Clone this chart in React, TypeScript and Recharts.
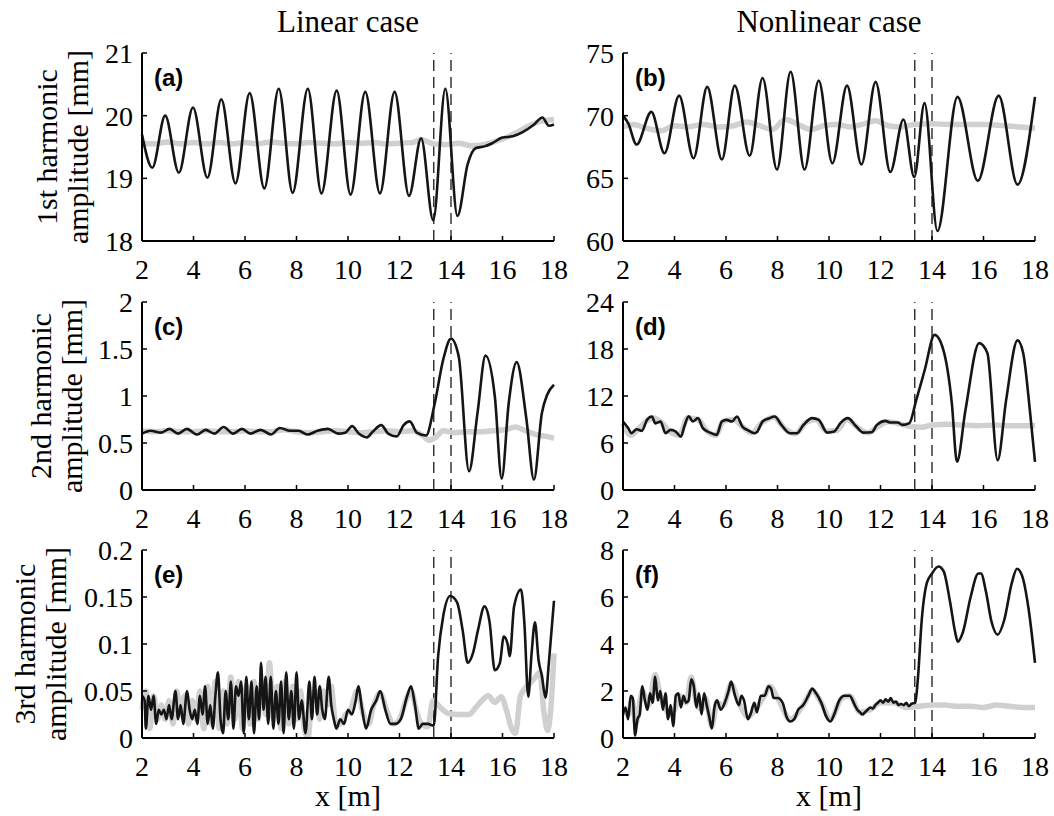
import React from "react";
import { LineChart, Line, XAxis, YAxis, ReferenceLine } from "recharts";

type Pt = [number, number];

const xTicks = [2, 4, 6, 8, 10, 12, 14, 16, 18];
const gaugeX = [13.33, 14.0];

// 1st harmonic
const h1Ticks = { lin: [18, 19, 20, 21], non: [60, 65, 70, 75] };
const h1LinBlack: Pt[] = [
  [2.0, 19.7], [2.4, 19.17], [2.9, 20.0], [3.43, 19.09], [3.98, 20.13], [4.54, 19.01],
  [5.08, 20.26], [5.63, 18.92], [6.18, 20.36], [6.75, 18.84], [7.31, 20.43], [7.85, 18.77],
  [8.44, 20.43], [8.97, 18.76], [9.56, 20.4], [10.1, 18.74], [10.67, 20.38], [11.24, 18.76],
  [11.81, 20.38], [12.37, 18.72], [12.84, 19.64], [13.31, 18.33], [13.78, 20.43], [14.25, 18.4],
  [14.65, 19.23], [14.95, 19.48], [15.3, 19.51], [15.6, 19.56], [16.0, 19.65], [16.4, 19.67],
  [16.8, 19.74], [17.2, 19.85], [17.55, 19.97], [17.8, 19.84], [18.0, 19.86],
];
const h1LinGray: Pt[] = [
  [2, 19.56], [2.5, 19.55], [3, 19.58], [3.5, 19.55], [4, 19.57], [4.5, 19.55], [5, 19.57],
  [5.5, 19.55], [6, 19.57], [6.5, 19.55], [7, 19.58], [7.5, 19.56], [8, 19.55], [8.5, 19.57],
  [9, 19.56], [9.5, 19.55], [10, 19.57], [10.5, 19.56], [11, 19.57], [11.5, 19.55], [12, 19.56],
  [12.5, 19.57], [12.85, 19.62], [13.3, 19.55], [13.8, 19.54], [14.3, 19.56], [14.8, 19.52],
  [15.3, 19.54], [15.8, 19.6], [16.2, 19.66], [16.6, 19.74], [17.0, 19.83], [17.4, 19.9],
  [17.8, 19.93], [18, 19.94],
];
const h1NonBlack: Pt[] = [
  [2, 70.0], [2.2, 69.4], [2.53, 67.7], [3.1, 70.3], [3.61, 67.0], [4.18, 71.6], [4.74, 66.6],
  [5.27, 72.3], [5.84, 66.5], [6.34, 72.4], [6.92, 66.8], [7.42, 73.0], [7.98, 65.7], [8.51, 73.5],
  [9.05, 65.7], [9.6, 72.8], [10.13, 66.2], [10.7, 72.4], [11.26, 66.1], [11.81, 72.7],
  [12.38, 65.5], [12.89, 69.7], [13.31, 65.1], [13.71, 71.0], [14.21, 60.8], [14.99, 71.5],
  [15.78, 64.8], [16.59, 71.6], [17.32, 64.5], [18, 71.5],
];
const h1NonGray: Pt[] = [
  [2, 69.1], [2.4, 69.3], [2.9, 69.0], [3.5, 68.8], [4.0, 69.2], [4.5, 69.1], [5.1, 69.3],
  [5.7, 69.1], [6.3, 69.2], [6.8, 69.5], [7.3, 69.2], [7.8, 68.9], [8.3, 69.7], [8.8, 69.3],
  [9.3, 68.9], [9.8, 69.2], [10.3, 69.3], [10.8, 69.1], [11.3, 69.3], [11.8, 69.6], [12.3, 69.2],
  [12.8, 69.1], [13.3, 69.3], [14, 69.35], [14.7, 69.3], [15.4, 69.3], [16.1, 69.3], [16.8, 69.2],
  [17.4, 69.1], [18, 69.0],
];

// 2nd harmonic
const h2Ticks = { lin: [0, 0.5, 1, 1.5, 2], non: [0, 6, 12, 18, 24] };
const h2LinBlack: Pt[] = [
  [2, 0.6], [2.33, 0.63], [2.74, 0.61], [3.07, 0.65], [3.4, 0.6], [3.74, 0.65], [4.14, 0.59],
  [4.47, 0.64], [4.81, 0.6], [5.17, 0.67], [5.54, 0.6], [5.88, 0.65], [6.21, 0.6], [6.61, 0.64],
  [7.01, 0.59], [7.35, 0.66], [7.75, 0.63], [8.08, 0.63], [8.42, 0.59], [8.82, 0.63], [9.22, 0.65],
  [9.62, 0.6], [9.89, 0.61], [10.16, 0.68], [10.42, 0.6], [10.73, 0.56], [10.96, 0.62],
  [11.29, 0.69], [11.56, 0.6], [11.89, 0.57], [12.16, 0.69], [12.4, 0.73], [12.67, 0.61],
  [13.03, 0.58], [13.36, 0.91], [13.7, 1.39], [14.0, 1.61], [14.3, 1.42], [14.7, 0.2],
  [15.03, 0.82], [15.34, 1.43], [15.7, 1.0], [15.97, 0.12], [16.24, 0.92], [16.55, 1.36],
  [16.93, 0.75], [17.22, 0.11], [17.53, 0.82], [17.73, 1.01], [18, 1.12],
];
const h2LinGray: Pt[] = [
  [2, 0.63], [2.5, 0.62], [3, 0.63], [3.5, 0.62], [4, 0.62], [4.5, 0.63], [5, 0.62], [5.5, 0.62],
  [6, 0.63], [6.5, 0.62], [7, 0.62], [7.5, 0.64], [8, 0.62], [8.5, 0.61], [9, 0.62], [9.5, 0.63],
  [10, 0.62], [10.5, 0.61], [11, 0.62], [11.5, 0.63], [12, 0.62], [12.5, 0.63], [12.9, 0.58],
  [13.15, 0.53], [13.4, 0.56], [13.7, 0.63], [14.1, 0.61], [14.6, 0.62], [15.1, 0.62],
  [15.6, 0.63], [16.1, 0.64], [16.5, 0.67], [16.9, 0.63], [17.3, 0.59], [17.7, 0.57], [18, 0.55],
];
const h2NonBlack: Pt[] = [
  [2, 8.74], [2.2, 7.9], [2.33, 7.25], [2.53, 7.76], [2.73, 7.55], [2.93, 8.95], [3.12, 9.38],
  [3.26, 8.5], [3.46, 8.74], [3.65, 7.25], [3.85, 7.67], [4.05, 7.46], [4.25, 6.8], [4.38, 8.1],
  [4.55, 9.4], [4.71, 8.74], [4.91, 9.17], [5.1, 7.9], [5.37, 7.33], [5.64, 7.04], [5.84, 8.74],
  [6.03, 8.95], [6.23, 8.74], [6.43, 9.38], [6.63, 8.1], [6.83, 7.67], [7.1, 7.25], [7.22, 7.46],
  [7.42, 8.74], [7.69, 9.17], [7.89, 9.38], [8.15, 8.31], [8.48, 7.25], [8.75, 7.25], [9.01, 8.31],
  [9.34, 9.17], [9.6, 8.95], [9.93, 7.33], [10.2, 7.46], [10.46, 8.61], [10.73, 9.17],
  [11.06, 8.1], [11.33, 7.33], [11.66, 7.38], [11.86, 8.31], [12.19, 8.82], [12.39, 8.61],
  [12.66, 8.61], [12.86, 8.31], [13.12, 8.53], [13.39, 11.5], [13.72, 15.35], [14.1, 19.8],
  [14.44, 17.9], [14.77, 11.1], [14.97, 3.6], [15.3, 10.2], [15.83, 18.75], [16.15, 17.5],
  [16.55, 3.8], [16.88, 11.5], [17.32, 19.1], [17.54, 17.5], [17.8, 10.2], [18, 3.6],
];
const h2NonGray: Pt[] = [
  [2, 8.5], [2.3, 7.0], [2.6, 7.8], [2.9, 8.8], [3.2, 9.2], [3.5, 8.6], [3.8, 7.5], [4.2, 7.0],
  [4.5, 9.2], [4.9, 9.0], [5.3, 7.4], [5.6, 7.0], [5.9, 8.8], [6.3, 9.0], [6.6, 8.2], [7.0, 7.3],
  [7.4, 8.6], [7.85, 9.3], [8.3, 7.8], [8.7, 7.2], [9.1, 8.6], [9.5, 9.0], [9.9, 7.5], [10.3, 7.6],
  [10.7, 9.0], [11.1, 8.0], [11.5, 7.3], [11.9, 8.1], [12.3, 8.7], [12.8, 8.4], [13.2, 8.1],
  [13.6, 8.0], [14.0, 8.3], [14.6, 8.4], [15.2, 8.3], [15.8, 8.2], [16.4, 8.3], [17.0, 8.2],
  [17.6, 8.2], [18, 8.2],
];

// 3rd harmonic
const h3Ticks = { lin: [0, 0.05, 0.1, 0.15, 0.2], non: [0, 2, 4, 6, 8] };
const h3LinBlack: Pt[] = [
  [2.0, 0.045], [2.1, 0.04], [2.15, 0.01], [2.25, 0.045], [2.35, 0.03], [2.45, 0.045], [2.55, 0.015],
  [2.65, 0.03], [2.75, 0.025], [2.85, 0.03], [2.95, 0.02], [3.05, 0.035], [3.15, 0.02], [3.3, 0.05],
  [3.4, 0.02], [3.5, 0.035], [3.6, 0.015], [3.75, 0.05], [3.85, 0.03], [3.95, 0.02], [4.05, 0.03],
  [4.15, 0.015], [4.25, 0.045], [4.35, 0.025], [4.45, 0.055], [4.55, 0.015], [4.65, 0.035],
  [4.75, 0.01], [4.85, 0.045], [4.95, 0.07], [5.05, 0.02], [5.15, 0.005], [5.25, 0.05], [5.35, 0.02],
  [5.45, 0.06], [5.55, 0.01], [5.65, 0.055], [5.75, 0.045], [5.85, 0.06], [5.95, 0.005],
  [6.05, 0.065], [6.15, 0.02], [6.25, 0.06], [6.35, 0.005], [6.45, 0.055], [6.55, 0.02], [6.62, 0.08],
  [6.72, 0.03], [6.8, 0.065], [6.9, 0.015], [7.0, 0.065], [7.1, 0.01], [7.2, 0.05], [7.3, 0.015],
  [7.4, 0.06], [7.5, 0.005], [7.6, 0.07], [7.7, 0.02], [7.8, 0.05], [7.9, 0.01], [8.0, 0.07],
  [8.1, 0.02], [8.2, 0.04], [8.35, 0.005], [8.5, 0.06], [8.6, 0.02], [8.7, 0.065], [8.8, 0.025],
  [8.9, 0.055], [9.0, 0.03], [9.1, 0.02], [9.25, 0.065], [9.35, 0.035], [9.45, 0.02], [9.55, 0.01],
  [9.7, 0.02], [9.85, 0.015], [10.0, 0.03], [10.15, 0.025], [10.3, 0.04], [10.4, 0.055],
  [10.55, 0.03], [10.7, 0.01], [10.9, 0.03], [11.1, 0.04], [11.25, 0.05], [11.45, 0.03],
  [11.65, 0.015], [11.85, 0.015], [12.05, 0.02], [12.3, 0.045], [12.45, 0.055], [12.6, 0.035],
  [12.75, 0.01], [12.9, 0.015], [13.1, 0.015], [13.33, 0.013], [13.5, 0.087], [13.7, 0.13],
  [13.97, 0.151], [14.24, 0.144], [14.45, 0.115], [14.65, 0.08], [14.85, 0.09], [15.05, 0.115],
  [15.3, 0.14], [15.5, 0.123], [15.7, 0.072], [15.9, 0.08], [16.05, 0.108], [16.2, 0.1],
  [16.28, 0.087], [16.45, 0.14], [16.72, 0.158], [16.85, 0.122], [17.0, 0.044], [17.13, 0.09],
  [17.26, 0.123], [17.4, 0.083], [17.53, 0.066], [17.67, 0.043], [17.8, 0.08], [18.0, 0.146],
];
const h3LinGray: Pt[] = [
  [2, 0.03], [2.15, 0.05], [2.3, 0.01], [2.45, 0.045], [2.6, 0.02], [2.75, 0.035], [2.9, 0.02],
  [3.05, 0.04], [3.2, 0.015], [3.35, 0.05], [3.5, 0.025], [3.65, 0.045], [3.8, 0.015], [3.95, 0.04],
  [4.1, 0.02], [4.25, 0.05], [4.4, 0.01], [4.55, 0.055], [4.7, 0.015], [4.85, 0.06], [5.0, 0.01],
  [5.15, 0.05], [5.3, 0.015], [5.45, 0.065], [5.6, 0.02], [5.75, 0.06], [5.9, 0.01], [6.05, 0.055],
  [6.2, 0.015], [6.35, 0.06], [6.5, 0.02], [6.65, 0.06], [6.8, 0.025], [6.95, 0.08], [7.1, 0.02],
  [7.25, 0.055], [7.4, 0.01], [7.55, 0.06], [7.7, 0.015], [7.85, 0.055], [8.0, 0.02], [8.15, 0.05],
  [8.3, 0.01], [8.45, 0.0], [8.6, 0.045], [8.75, 0.05], [8.9, 0.02], [9.05, 0.05], [9.2, 0.035],
  [9.35, 0.055], [9.5, 0.02], [9.7, 0.015], [9.9, 0.025], [10.1, 0.03], [10.35, 0.05], [10.6, 0.025],
  [10.8, 0.015], [11.0, 0.035], [11.25, 0.048], [11.5, 0.03], [11.75, 0.015], [12.0, 0.02],
  [12.25, 0.04], [12.45, 0.05], [12.65, 0.03], [12.85, 0.015], [13.1, 0.012], [13.3, 0.04],
  [13.6, 0.032], [13.9, 0.026], [14.3, 0.025], [14.7, 0.025], [14.95, 0.032], [15.2, 0.04],
  [15.45, 0.045], [15.7, 0.038], [15.95, 0.044], [16.15, 0.03], [16.35, 0.01], [16.5, 0.005],
  [16.7, 0.045], [16.95, 0.055], [17.2, 0.062], [17.45, 0.07], [17.6, 0.03], [17.75, 0.008],
  [17.9, 0.04], [18, 0.09],
];
const h3NonBlack: Pt[] = [
  [2.0, 1.0], [2.1, 1.3], [2.2, 0.8], [2.3, 1.8], [2.38, 1.7], [2.47, 0.1], [2.56, 0.8], [2.65, 1.0],
  [2.75, 2.2], [2.85, 1.6], [2.95, 1.2], [3.05, 1.9], [3.15, 1.5], [3.25, 2.6], [3.35, 1.6],
  [3.45, 2.0], [3.55, 1.2], [3.65, 1.9], [3.75, 0.8], [3.85, 1.4], [3.95, 0.5], [4.05, 1.8],
  [4.15, 1.9], [4.25, 1.3], [4.35, 1.8], [4.45, 1.5], [4.55, 1.6], [4.65, 2.5], [4.75, 2.2],
  [4.85, 1.3], [4.95, 1.9], [5.05, 1.0], [5.15, 1.9], [5.25, 1.4], [5.35, 0.9], [5.45, 0.4],
  [5.55, 1.3], [5.65, 1.6], [5.8, 1.2], [5.95, 1.5], [6.1, 2.0], [6.2, 2.4], [6.35, 1.8], [6.5, 1.4],
  [6.6, 1.8], [6.7, 1.6], [6.85, 0.8], [6.95, 1.0], [7.1, 1.5], [7.2, 1.1], [7.35, 1.8], [7.5, 1.8],
  [7.65, 2.2], [7.75, 2.1], [7.85, 1.7], [8.0, 1.7], [8.2, 1.5], [8.35, 0.9], [8.5, 0.7], [8.65, 0.8],
  [8.8, 1.2], [9.0, 1.4], [9.2, 1.8], [9.35, 2.1], [9.5, 1.9], [9.7, 1.5], [9.9, 0.9], [10.05, 0.7],
  [10.2, 1.0], [10.4, 1.6], [10.6, 1.8], [10.8, 1.8], [11.0, 1.4], [11.1, 1.2], [11.2, 1.1],
  [11.3, 1.0], [11.4, 1.1], [11.5, 1.2], [11.6, 1.3], [11.7, 1.25], [11.8, 1.4], [11.9, 1.5],
  [12.0, 1.6], [12.1, 1.5], [12.2, 1.65], [12.3, 1.55], [12.4, 1.7], [12.5, 1.5], [12.6, 1.55],
  [12.7, 1.4], [12.8, 1.45], [12.9, 1.4], [13.0, 1.5], [13.1, 1.35], [13.2, 1.45], [13.35, 1.5],
  [13.45, 2.5], [13.6, 5.0], [13.8, 6.6], [14.0, 7.0], [14.25, 7.3], [14.45, 7.1], [14.7, 5.8],
  [14.9, 4.5], [15.0, 4.1], [15.2, 4.5], [15.5, 6.0], [15.8, 7.0], [15.9, 7.0], [16.1, 6.2],
  [16.3, 5.0], [16.55, 4.4], [16.8, 5.0], [17.1, 6.6], [17.3, 7.2], [17.5, 6.9], [17.75, 5.5],
  [18.0, 3.2],
];
const h3NonGray: Pt[] = [
  [2, 1.2], [2.2, 1.0], [2.35, 1.6], [2.5, 0.6], [2.75, 2.0], [3.0, 1.4], [3.25, 2.7], [3.45, 1.8],
  [3.6, 1.4], [3.8, 1.0], [4.0, 1.2], [4.2, 1.8], [4.45, 1.5], [4.65, 2.6], [4.85, 1.5], [5.05, 1.2],
  [5.2, 1.7], [5.45, 0.5], [5.65, 1.5], [5.9, 1.4], [6.2, 2.3], [6.5, 1.5], [6.85, 0.9], [7.2, 1.3],
  [7.5, 1.8], [7.7, 2.2], [8.0, 1.7], [8.5, 0.8], [9.0, 1.4], [9.35, 2.0], [9.7, 1.5], [10.05, 0.8],
  [10.5, 1.7], [10.8, 1.8], [11.2, 1.1], [11.6, 1.2], [12.0, 1.5], [12.5, 1.5], [13.0, 1.3],
  [13.5, 1.35], [14.0, 1.4], [14.5, 1.4], [15.0, 1.35], [15.5, 1.35], [16.0, 1.3], [16.5, 1.4],
  [17.0, 1.35], [17.5, 1.3], [18, 1.3],
];

const serif = "Liberation Serif, Tinos, Times New Roman, DejaVu Serif, serif";
const PW = 412;
const PH = 188;
const colLeft = [142, 623];
const rowTop = [53, 302, 550];

const toPts = (arr: Pt[]) => arr.map(([x, y]) => ({ x, y }));

const tickStyle = { fontFamily: serif, fontSize: 28, fill: "#000", style: { fontFamily: serif } };

const Panel = ({ left, top, black, gray, ticks }: any) => {
  const ml = 90;
  const mr = 30;
  const mt = 25;
  const mb = 50;
  const dom = [ticks[0], ticks[ticks.length - 1]];
  return (
    <div style={{ position: "absolute", left: left - ml, top: top - mt }}>
      <LineChart width={PW + ml + mr} height={PH + mt + mb} margin={{ top: mt, right: mr, bottom: 0, left: 0 }}>
        <XAxis xAxisId="b" type="number" dataKey="x" domain={[2, 18]} ticks={xTicks} interval={0}
          height={mb} tickSize={-5} tickMargin={23} tick={tickStyle}
          axisLine={{ stroke: "#000", strokeWidth: 2 }} tickLine={{ stroke: "#000", strokeWidth: 1.5 }} />
        <XAxis xAxisId="t" orientation="top" type="number" dataKey="x" domain={[2, 18]} ticks={xTicks}
          interval={0} height={0} tickSize={-5} tick={false}
          axisLine={{ stroke: "#000", strokeWidth: 2 }} tickLine={{ stroke: "#000", strokeWidth: 1.5 }} />
        <YAxis yAxisId="l" type="number" domain={dom} ticks={ticks} interval={0} allowDataOverflow
          width={ml} tickSize={-5} tickMargin={14} tick={tickStyle}
          axisLine={{ stroke: "#000", strokeWidth: 2 }} tickLine={{ stroke: "#000", strokeWidth: 1.5 }} />
        <YAxis yAxisId="r" orientation="right" type="number" domain={dom} ticks={ticks} interval={0}
          width={0} tickSize={-5} tick={false}
          axisLine={{ stroke: "#000", strokeWidth: 2 }} tickLine={{ stroke: "#000", strokeWidth: 1.5 }} />
        {gaugeX.map((g) => (
          <ReferenceLine key={g} xAxisId="b" yAxisId="l" x={g} stroke="#2a2a2a" strokeWidth={1.4} strokeDasharray="11 6" />
        ))}
        <Line xAxisId="b" yAxisId="l" data={toPts(gray)} dataKey="y" type="monotone" stroke="#d0d0d0"
          strokeWidth={5.5} dot={false} isAnimationActive={false} />
        <Line xAxisId="b" yAxisId="l" data={toPts(black)} dataKey="y" type="monotone" stroke="#151515"
          strokeWidth={2.6} dot={false} isAnimationActive={false} />
      </LineChart>
    </div>
  );
};

const panels = [
  { tag: "(a)", col: 0, row: 0, black: h1LinBlack, gray: h1LinGray, ticks: h1Ticks.lin },
  { tag: "(b)", col: 1, row: 0, black: h1NonBlack, gray: h1NonGray, ticks: h1Ticks.non },
  { tag: "(c)", col: 0, row: 1, black: h2LinBlack, gray: h2LinGray, ticks: h2Ticks.lin },
  { tag: "(d)", col: 1, row: 1, black: h2NonBlack, gray: h2NonGray, ticks: h2Ticks.non },
  { tag: "(e)", col: 0, row: 2, black: h3LinBlack, gray: h3LinGray, ticks: h3Ticks.lin },
  { tag: "(f)", col: 1, row: 2, black: h3NonBlack, gray: h3NonGray, ticks: h3Ticks.non },
];

const colTitles = ["Linear case", "Nonlinear case"];
const rowTitles = [
  ["1st harmonic", "amplitude [mm]"],
  ["2nd harmonic", "amplitude [mm]"],
  ["3rd harmonic", "amplitude [mm]"],
];
// baseline x of the two ylabel lines, per row
const rowTitleX = [[57, 88], [51, 82], [35, 66]];

export default function App() {
  return (
    <div style={{ position: "absolute", left: 0, top: 0, width: 1054, height: 816, background: "#fff" }}>
      {panels.map((p) => (
        <Panel key={p.tag} left={colLeft[p.col]} top={rowTop[p.row]} black={p.black} gray={p.gray} ticks={p.ticks} />
      ))}
      <svg width={1054} height={816} style={{ position: "absolute", left: 0, top: 0, pointerEvents: "none", fontFamily: serif }}>
        {colTitles.map((t, i) => (
          <text key={t} x={colLeft[i] + PW / 2} y={32} textAnchor="middle" style={{ fontFamily: serif }} fontSize={31}>
            {t}
          </text>
        ))}
        {rowTitles.map((lines, r) =>
          lines.map((t, k) => {
            const cx = rowTitleX[r][k];
            const cy = rowTop[r] + PH / 2;
            return (
              <text key={r + t} transform={`translate(${cx},${cy}) rotate(-90)`} textAnchor="middle"
                style={{ fontFamily: serif }} fontSize={30}>
                {t}
              </text>
            );
          })
        )}
        {panels.map((p) => (
          <text key={p.tag} x={colLeft[p.col] + 12} y={rowTop[p.row] + 33}
            style={{ fontFamily: "Liberation Sans, Arial, sans-serif" }} fontWeight="bold" fontSize={24}>
            {p.tag}
          </text>
        ))}
        {colLeft.map((l) => (
          <text key={l} x={l + PW / 2} y={806} textAnchor="middle" style={{ fontFamily: serif }} fontSize={30}>
            x [m]
          </text>
        ))}
      </svg>
    </div>
  );
}
